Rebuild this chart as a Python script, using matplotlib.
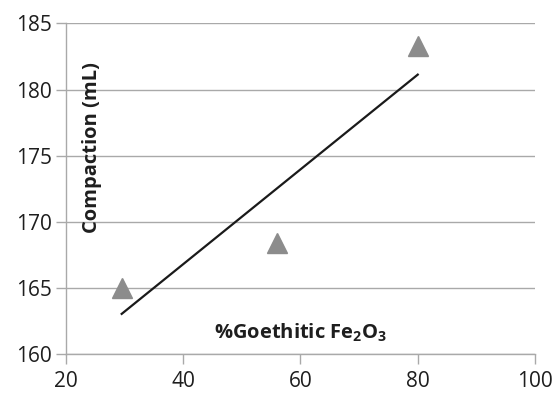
import numpy as np
import matplotlib.pyplot as plt

plt.rcParams['font.family'] = ['Open Sans', 'DejaVu Sans']
plt.rcParams['mathtext.fontset'] = 'custom'
plt.rcParams['mathtext.rm'] = 'Open Sans'
plt.rcParams['mathtext.bf'] = 'Open Sans:bold'

goethitic = [29.5, 56.0, 80.0]
compaction = [165.0, 168.4, 183.3]

x_ticks = [20, 40, 60, 80, 100]
y_ticks = [160, 165, 170, 175, 180, 185]

grid_col = '#a9a9a9'

fig = plt.figure(figsize=(5.56, 3.96), dpi=100)
ax = fig.add_axes([0.1187, 0.106, 0.8435, 0.8347])

ax.plot(goethitic, compaction, linestyle='none', marker='^', markersize=15,
        color='#8c8c8c', zorder=3)

# linear trendline
k, b = np.polyfit(goethitic, compaction, 1)
xs = np.array([goethitic[0], goethitic[-1]])
ax.plot(xs, k * xs + b, color='#1a1a1a', lw=1.6, zorder=2)

ax.set_xlim(20, 100)
ax.set_ylim(160, 185)
ax.set_xticks(x_ticks)
ax.set_yticks(y_ticks)
ax.yaxis.grid(True, color=grid_col, lw=1)
ax.set_axisbelow(True)

for s in ['top', 'right']:
    ax.spines[s].set_visible(False)
for s in ['left', 'bottom']:
    ax.spines[s].set_color(grid_col)
    ax.spines[s].set_linewidth(1)

ax.tick_params(axis='both', colors=grid_col, labelcolor='#1e1e1e',
               labelsize=15, length=7, width=1)
ax.tick_params(axis='x', pad=5)
ax.tick_params(axis='y', pad=3)

ax.text(0.055, 0.626, 'Compaction (mL)', transform=ax.transAxes,
        rotation=90, ha='center', va='center', fontsize=14.5,
        fontweight='bold', color='#1e1e1e')
ax.text(0.5, 0.064, r'%Goethitic Fe$_{\mathbf{2}}$O$_{\mathbf{3}}$',
        transform=ax.transAxes, ha='center', va='center', fontsize=14.5,
        fontweight='bold', color='#1e1e1e')

fig.savefig('out.png', dpi=100)
